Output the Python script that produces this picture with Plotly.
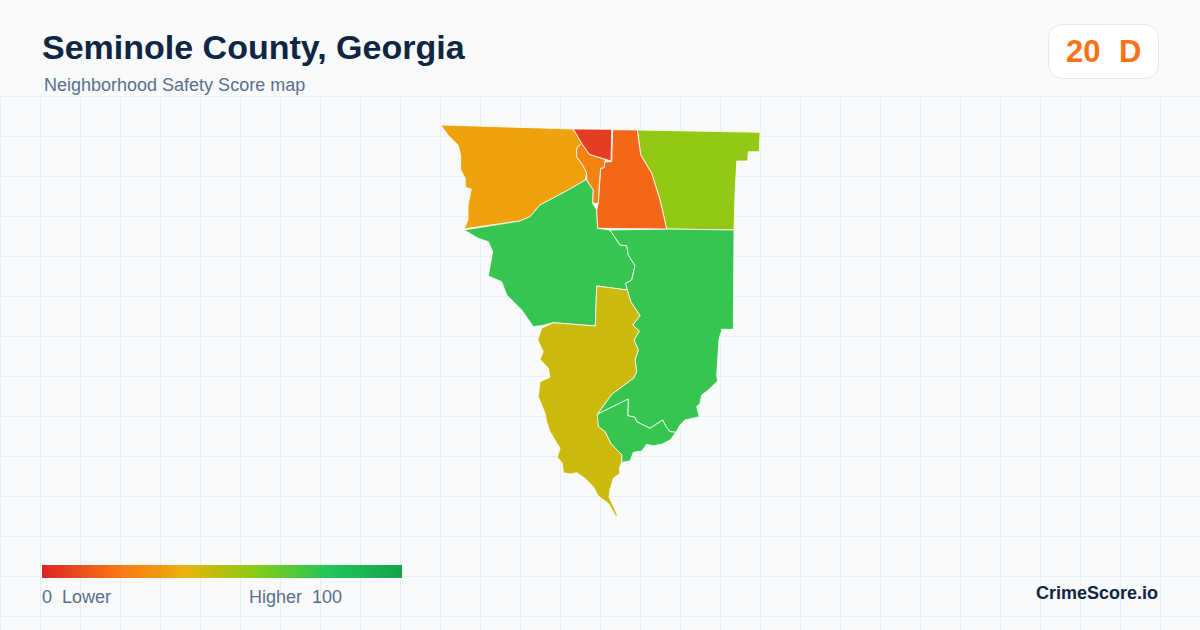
import plotly.graph_objects as go

PAGE_W, PAGE_H = 1200, 630
TITLE = "Seminole County, Georgia"
SUBTITLE = "Neighborhood Safety Score map"
BADGE_SCORE = "20"
BADGE_GRADE = "D"
BRAND = "CrimeScore.io"
LEGEND_LOW = "0  Lower"
LEGEND_HIGH = "Higher  100"

SCALE_STOPS = [0, 0.2, 0.4, 0.6, 0.8, 1]
SCALE_COLORS = ["#dc2626", "#f97316", "#eab308", "#84cc16", "#22c55e", "#16a34a"]

# Neighborhood outlines, read from the picture, and estimated scores
red_x = [573.3, 611.7, 611, 605, 589.3, 581.7]
red_y = [129, 129.3, 161, 159.3, 154.3, 143.3]
red_score = 6

sliver_x = [581.7, 589.3, 605, 605, 604, 600.7, 599.3, 598.3, 592.7, 593.3, 586.7, 586.7, 582.7, 576.7, 576.7]
sliver_y = [143.3, 154.3, 159.3, 161.7, 167.7, 168.3, 183.3, 203.3, 203.3, 190, 180, 173, 165, 156.7, 148]
sliver_score = 25

orange_x = [612.7, 637.3, 640.7, 651.7, 660, 666.7, 597.7, 596.7, 598.3, 599.3, 600.7, 604, 605, 611.7]
orange_y = [129.7, 130, 155, 173.3, 200, 229, 228.3, 210, 203.3, 183.3, 168.3, 167.7, 161.7, 161.7]
orange_score = 17

nw_x = [440.7, 520, 573.3, 581.7, 576.7, 576.7, 582.7, 586.7, 585.3, 570, 540, 530, 520, 464, 468, 468, 471.3,
        465.3, 465.3, 460.7, 460.7, 458, 448]
nw_y = [125, 127.7, 129, 143.3, 148, 156.7, 165, 173, 180, 189, 205, 216.7, 221, 228.8, 220, 205, 189,
        187.3, 178.3, 170, 155, 145, 135]
nw_score = 35

lime_x = [637.3, 760, 759.3, 748.3, 747.7, 736.7, 735, 734, 666.7, 660, 651.7, 640.7]
lime_y = [130, 132.3, 151.7, 151.7, 161, 161, 195, 230, 229, 200, 173.3, 155]
lime_score = 57

west_x = [585.3, 586.7, 593.3, 592.7, 596.7, 597.7, 610, 620, 626.7, 628.3, 635, 631.7, 625.7, 627.3, 596.7, 595.3,
          553.3, 541.7, 533.3, 521.7, 506.7, 501.7, 488.3, 492.7, 488.3, 478.3, 464, 520, 530, 540, 570]
west_y = [180, 180, 190, 203.3, 210, 228.3, 230, 245, 245.7, 255, 265.7, 280, 283.3, 290, 286, 326,
          322.7, 325.5, 326.7, 310, 295, 281.7, 276, 251.7, 241.7, 238.3, 230, 221, 216.7, 205, 189]
west_score = 76

east_x = [610, 666.7, 734, 733.3, 721, 721.7, 719, 716.7, 717.7, 708.3, 701.7, 700, 696.7, 699.3, 685, 680, 676,
          670, 666, 662.7, 650, 636.7, 635, 627.7, 628.3, 597.3, 611.7, 633.3, 636.7, 635, 638.3, 634, 639.3, 632.7,
          640, 630.7, 627.3, 625.7, 631.7, 635, 628.3, 626.7, 620]
east_y = [230, 229, 230, 329.3, 329.3, 330, 339.3, 375, 381, 390, 395, 403.3, 406.7, 416.7, 420, 425, 432.3,
          431.7, 426.7, 420, 428.3, 421.7, 417.3, 415.7, 399, 414.3, 394.3, 378.3, 371.7, 360, 350, 340, 331, 325,
          315.7, 301.7, 290, 283.3, 280, 265.7, 255, 245.7, 245]
east_score = 76

south_x = [597.3, 628.3, 627.7, 635, 636.7, 650, 662.7, 666, 670, 676, 670, 661.7, 653.3, 646.7, 641.7, 633.3, 630,
           621.7, 621.7, 610.7, 605, 598.3, 596.7]
south_y = [414.3, 399, 415.7, 417.3, 421.7, 428.3, 420, 426.7, 431.7, 432.3, 440, 444.3, 445.7, 444.3, 451, 452.3, 461,
           462.3, 455, 443.3, 431.7, 426.7, 415]
south_score = 76

gold_x = [596.7, 627.3, 630.7, 640, 632.7, 639.3, 634, 638.3, 635, 636.7, 633.3, 611.7, 597.3, 598.3, 605, 610.7,
          621.7, 621.7, 619.3, 620, 613.3, 610, 609, 617.3, 616, 608.3, 598.3, 593.3, 585, 576.7, 570, 563.3, 562.3,
          557.3, 560, 550, 546.7, 545, 538.3, 540, 550, 548.3, 540, 543.3, 537.7, 541.7, 553.3, 595.3]
gold_y = [286, 290, 301.7, 315.7, 325, 331, 340, 350, 360, 371.7, 378.3, 394.3, 414.3, 426.7, 431.7, 443.3,
          455, 462.3, 468.3, 473.3, 478.3, 490, 496.7, 515, 516.7, 503.3, 496, 486.7, 478.3, 472.7, 474, 472.7, 463.3,
          457.3, 448.3, 431.7, 421.7, 413.3, 396.7, 381.7, 377.3, 368.3, 359.3, 351.7, 340, 328.3, 322.7, 326]
gold_score = 46


def hex_rgb(c):
    return tuple(int(c[i:i + 2], 16) for i in (1, 3, 5))


def score_color(score):
    t = score / 100
    for i in range(len(SCALE_STOPS) - 1):
        a, b = SCALE_STOPS[i], SCALE_STOPS[i + 1]
        if a <= t <= b:
            f = (t - a) / (b - a)
            ca, cb = hex_rgb(SCALE_COLORS[i]), hex_rgb(SCALE_COLORS[i + 1])
            return "rgb(%d,%d,%d)" % tuple(round(p + (q - p) * f) for p, q in zip(ca, cb))
    return SCALE_COLORS[-1]


fig = go.Figure()

for xs, ys, score, name in [
    (nw_x, nw_y, nw_score, "NW"),
    (lime_x, lime_y, lime_score, "NE"),
    (west_x, west_y, west_score, "West"),
    (east_x, east_y, east_score, "East"),
    (south_x, south_y, south_score, "South"),
    (gold_x, gold_y, gold_score, "Southwest"),
    (orange_x, orange_y, orange_score, "North"),
    (sliver_x, sliver_y, sliver_score, "North sliver"),
    (red_x, red_y, red_score, "North tip"),
]:
    fig.add_trace(go.Scatter(
        x=xs + xs[:1], y=ys + ys[:1], mode="lines", fill="toself", name=name,
        fillcolor=score_color(score), line=dict(color="#ffffff", width=0.8), hoverinfo="name",
    ))

# Legend colour ramp, through the same scale
ramp = list(range(0, 101))
fig.add_trace(go.Heatmap(
    z=[ramp, ramp], x0=42 + 360 / 202, dx=360 / 101, y=[568.25, 574.75],
    colorscale=[[s, c] for s, c in zip(SCALE_STOPS, SCALE_COLORS)],
    zmin=0, zmax=100, showscale=False, hoverinfo="skip",
))

BG = "#f8fafc"
GRID = "#e9f0f4"
shapes = []
for gx in range(0, PAGE_W + 1, 40):
    shapes.append(dict(type="line", x0=gx + 0.5, x1=gx + 0.5, y0=96, y1=PAGE_H,
                       line=dict(color=GRID, width=1), layer="below"))
for gy in range(96, PAGE_H, 40):
    shapes.append(dict(type="line", x0=0, x1=PAGE_W, y0=gy + 0.5, y1=gy + 0.5,
                       line=dict(color=GRID, width=1), layer="below"))

# Badge with rounded corners
L, R, T, B, r = 1048.5, 1158.5, 24.5, 78.5, 15
shapes.append(dict(
    type="path",
    path=f"M {L+r} {T} L {R-r} {T} Q {R} {T} {R} {T+r} L {R} {B-r} Q {R} {B} {R-r} {B} "
         f"L {L+r} {B} Q {L} {B} {L} {B-r} L {L} {T+r} Q {L} {T} {L+r} {T} Z",
    fillcolor="#ffffff", line=dict(color="#e2e8f0", width=1), layer="below",
))

FONT = "Liberation Sans, Arial, sans-serif"


def label(x, y, text, size, color, bold=False, anchor="left"):
    return dict(x=x, y=y, xref="x", yref="y", text=f"<b>{text}</b>" if bold else text,
                showarrow=False, xanchor=anchor, yanchor="middle", xshift=0,
                font=dict(family=FONT, size=size, color=color), borderpad=0, borderwidth=0)


annotations = [
    label(42, 47, TITLE, 34, "#0f2542", True),
    label(44, 85, SUBTITLE, 18, "#5a6f8c"),
    label(1082.5, 51, BADGE_SCORE, 31, "#f97316", True, "center"),
    label(1130, 51, BADGE_GRADE, 31, "#f97316", True, "center"),
    label(42, 597, LEGEND_LOW, 18, "#5a6f8c"),
    label(249, 597, LEGEND_HIGH, 18, "#5a6f8c"),
    label(1158, 593, BRAND, 18, "#0f2542", True, "right"),
]

fig.update_layout(
    width=PAGE_W, height=PAGE_H, margin=dict(l=0, r=0, t=0, b=0),
    paper_bgcolor=BG, plot_bgcolor=BG, showlegend=False,
    xaxis=dict(range=[0, PAGE_W], visible=False, fixedrange=True),
    yaxis=dict(range=[PAGE_H, 0], visible=False, fixedrange=True),
    shapes=shapes, annotations=annotations,
)

fig.write_html("out.html", config=dict(displayModeBar=False),
               post_script="document.body.style.margin='0';document.body.style.overflow='hidden';")
